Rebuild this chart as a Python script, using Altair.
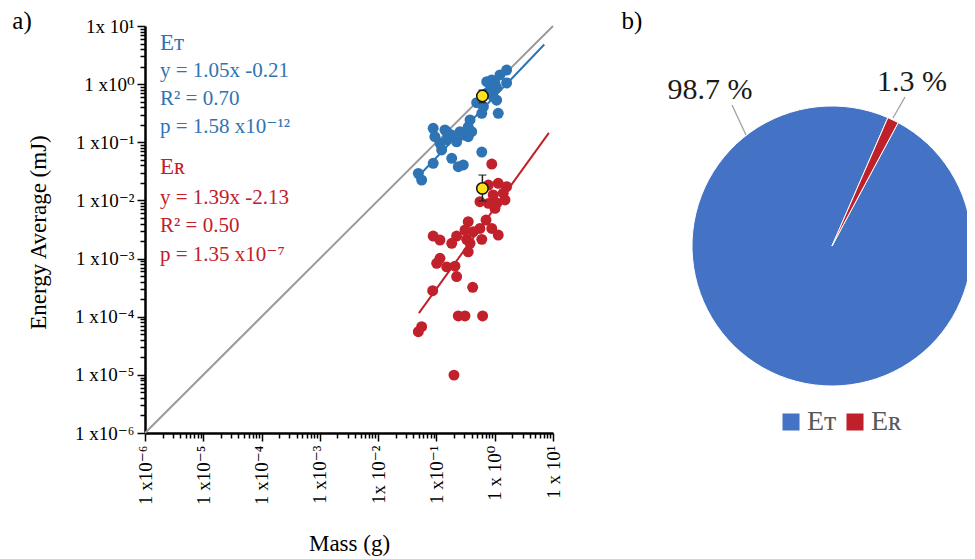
import altair as alt
import numpy as np
import pandas as pd

# ---------------- data ----------------
et_mass = [1.60, 1.23, 1.60, 0.89, 0.73, 1.08, 0.83, 0.49, 0.64, 1.08, 1.15, 0.60,
           0.377, 0.351, 0.403, 0.351, 0.254, 0.222, 0.140, 0.088, 0.094, 0.115,
           0.150, 0.183, 0.123, 0.60, 0.183, 0.237, 0.289, 0.088, 0.0489, 0.0558,
           0.73, 0.94, 1.01, 0.289, 0.150]
et_energy = [1.75, 1.44, 1.05, 1.18, 1.10, 0.86, 0.79, 0.48, 0.41, 0.53, 0.315, 0.315,
             0.242, 0.185, 0.152, 0.125, 0.152, 0.102, 0.163, 0.174, 0.125, 0.096,
             0.109, 0.133, 0.0737, 0.068, 0.053, 0.038, 0.0407, 0.0435, 0.0292, 0.0224,
             0.70, 0.61, 1.03, 0.133, 0.152]

er_mass = [0.89, 1.60, 1.15, 0.78, 0.94, 1.40, 1.50, 1.01, 0.558, 0.78, 0.351, 0.71,
           0.89, 1.15, 0.558, 0.428, 0.309, 0.222, 0.330, 0.60, 0.183, 0.377, 0.088,
           0.115, 0.351, 0.115, 0.101, 0.150, 0.208, 0.222, 0.0863, 0.419, 0.237,
           0.309, 0.62, 0.0558, 0.0489, 0.200, 1.09]
er_energy = [0.0423, 0.0172, 0.0197, 0.0184, 0.0124, 0.0133, 0.0102, 0.0073, 0.0095,
             0.0089, 0.0043, 0.0046, 0.0033, 0.00254, 0.0033, 0.0029, 0.0031, 0.00244,
             0.00214, 0.00214, 0.00183, 0.00183, 0.00244, 0.00208, 0.00131, 0.00101,
             0.00083, 0.00072, 0.00074, 0.00049, 0.00028, 0.00032, 0.000103, 0.000103,
             0.000103, 0.0000673, 0.0000552, 0.0000099, 0.0090]

mean_mass = [0.615, 0.615]
mean_energy = [0.625, 0.0161]
mean_low = [0.48, 0.0098]
mean_high = [0.79, 0.0273]

fit_t = {"slope": 1.05, "icpt": -0.21, "xmin": 0.0447, "xmax": 7.08}
fit_r = {"slope": 1.39, "icpt": -2.13, "xmin": 0.050, "xmax": 8.5}

x_tick_labels = ["1 x10⁻⁶", "1 x10⁻⁵", "1 x10⁻⁴", "1 x10⁻³", "1x 10⁻²", "1 x10⁻¹", "1 x 10⁰", "1 x 10¹"]
y_tick_labels = ["1 x10⁻⁶", "1 x10⁻⁵", "1 x10⁻⁴", "1 x10⁻³", "1 x10⁻²", "1 x10⁻¹", "1 x10⁰", "1x 10¹"]

blue_text = ["Eᴛ", "y = 1.05x -0.21", "R² = 0.70", "p = 1.58 x10⁻¹²"]
red_text = ["Eʀ", "y = 1.39x -2.13", "R² = 0.50", "p = 1.35 x10⁻⁷"]

pie_labels = ["Eᴛ", "Eʀ"]
pie_values = [98.7, 1.3]
pie_text = ["98.7 %", "1.3 %"]

# ---------------- styling ----------------
SERIF = "Liberation Serif, DejaVu Serif, serif"
BLUE = "#2E74B5"
RED = "#C1212A"
PIE_COLORS = ["#4472C4", "#C0202A"]
W, H = 408, 407

dom = [1e-6, 10]
xs = alt.Scale(type="log", domain=dom, nice=False)
ys = alt.Scale(type="log", domain=dom, nice=False)

tick_vals = [m * 10.0 ** e for e in range(-6, 1) for m in range(1, 10)] + [10.0]
major = "abs(log(datum.value)/LN10 - round(log(datum.value)/LN10)) < 0.001"


def lab_expr(labels):
    arr = "[" + ",".join("'" + s + "'" for s in labels) + "]"
    return "(" + major + ") ? " + arr + "[round(log(datum.value)/LN10)+6] : ''"


common_axis = dict(
    values=tick_vals, labelFont=SERIF, labelFontSize=19, labelColor="black",
    labelOverlap=False, tickColor="black", tickWidth=1.5,
    tickSize={"condition": {"test": major, "value": 8}, "value": 5},
    domainColor="black", domainWidth=2.5, grid=False,
    titleFont=SERIF, titleFontSize=23, titleFontWeight="normal", titleColor="black",
)

x_axis = alt.Axis(labelExpr=lab_expr(x_tick_labels), labelAngle=270, labelPadding=4,
                  title="Mass (g)", titleY=110, titleBaseline="middle", **common_axis)
y_axis = alt.Axis(labelExpr=lab_expr(y_tick_labels), labelPadding=3,
                  title="Energy Average (mJ)", titleX=-107, titleY=206,
                  titleBaseline="middle", titleAlign="center", titleAngle=270, **common_axis)

# ---------------- layers ----------------
diag = alt.Chart(pd.DataFrame({"m": dom, "e": dom})).mark_line(color="#9a9a9a", strokeWidth=2).encode(
    x=alt.X("m:Q", scale=xs, axis=x_axis), y=alt.Y("e:Q", scale=ys, axis=y_axis))

et_pts = alt.Chart(pd.DataFrame({"m": et_mass, "e": et_energy})).mark_circle(
    size=120, color=BLUE, opacity=1).encode(x=alt.X("m:Q", scale=xs), y=alt.Y("e:Q", scale=ys))
er_pts = alt.Chart(pd.DataFrame({"m": er_mass, "e": er_energy})).mark_circle(
    size=120, color=RED, opacity=1).encode(x=alt.X("m:Q", scale=xs), y=alt.Y("e:Q", scale=ys))


def fit_df(f):
    mm = np.array([f["xmin"], f["xmax"]])
    return pd.DataFrame({"m": mm, "e": 10 ** (f["slope"] * np.log10(mm) + f["icpt"])})


et_fit = alt.Chart(fit_df(fit_t)).mark_line(color=BLUE, strokeWidth=2).encode(
    x=alt.X("m:Q", scale=xs), y=alt.Y("e:Q", scale=ys))
er_fit = alt.Chart(fit_df(fit_r)).mark_line(color=RED, strokeWidth=2).encode(
    x=alt.X("m:Q", scale=xs), y=alt.Y("e:Q", scale=ys))

mean_df = pd.DataFrame({"m": mean_mass, "e": mean_energy, "lo": mean_low, "hi": mean_high})
err = alt.Chart(mean_df).mark_rule(color="#222", strokeWidth=1.5).encode(
    x=alt.X("m:Q", scale=xs), y=alt.Y("lo:Q", scale=ys), y2="hi:Q")
cap_lo = alt.Chart(mean_df).mark_tick(color="#222", orient="horizontal", size=8, thickness=1.5).encode(
    x=alt.X("m:Q", scale=xs), y=alt.Y("lo:Q", scale=ys))
cap_hi = alt.Chart(mean_df).mark_tick(color="#222", orient="horizontal", size=8, thickness=1.5).encode(
    x=alt.X("m:Q", scale=xs), y=alt.Y("hi:Q", scale=ys))
means = alt.Chart(mean_df).mark_point(filled=True, fill="#FFE21A", stroke="#111", strokeWidth=1.5,
                                      size=130, opacity=1, shape="circle").encode(
    x=alt.X("m:Q", scale=xs), y=alt.Y("e:Q", scale=ys))

texts = []
blue_y = [17, 45, 73, 101]
red_y = [141, 172, 200, 229]
for t, yy in zip(blue_text, blue_y):
    texts.append(alt.Chart().mark_text(text=t, font=SERIF, fontSize=21 if t[0] != "E" else 23,
                                       color=BLUE, align="left", baseline="middle").encode(
        x=alt.value(15), y=alt.value(yy)))
for t, yy in zip(red_text, red_y):
    texts.append(alt.Chart().mark_text(text=t, font=SERIF, fontSize=21 if t[0] != "E" else 23,
                                       color=RED, align="left", baseline="middle").encode(
        x=alt.value(15), y=alt.value(yy)))

panel_labels = [
    alt.Chart().mark_text(text="a)", font=SERIF, fontSize=25, color="black", align="center",
                          baseline="middle").encode(x=alt.value(-123), y=alt.value(-5)),
    alt.Chart().mark_text(text="b)", font=SERIF, fontSize=25, color="black", align="center",
                          baseline="middle").encode(x=alt.value(487), y=alt.value(-5)),
]

# ---------------- pie ----------------
off = np.deg2rad(28.2)
pie_df = pd.DataFrame({"comp": pie_labels, "share": pie_values, "ord": [0, 1]})
pie = alt.Chart(pie_df).mark_arc(radius=140, stroke="white", strokeWidth=1).encode(
    theta=alt.Theta("share:Q", stack=True, scale=alt.Scale(range=[off, off + 2 * np.pi])),
    color=alt.Color("comp:N", scale=alt.Scale(domain=pie_labels, range=PIE_COLORS),
                    legend=alt.Legend(orient="none", legendX=632, legendY=382, direction="horizontal",
                                      title=None, symbolType="square", symbolSize=290,
                                      symbolStrokeWidth=0, labelFont=SERIF, labelFontSize=28,
                                      labelColor="#595959", columnPadding=4, labelOffset=2,
                                      symbolOpacity=1)),
    order=alt.Order("ord:Q"),
    x=alt.value(687), y=alt.value(220),
)

pie_lab = [
    alt.Chart().mark_text(text=pie_text[0], font=SERIF, fontSize=30, color="#1a1a1a",
                          align="center", baseline="middle").encode(x=alt.value(565), y=alt.value(64)),
    alt.Chart().mark_text(text=pie_text[1], font=SERIF, fontSize=30, color="#1a1a1a",
                          align="center", baseline="middle").encode(x=alt.value(767), y=alt.value(56)),
]
leaders = [
    alt.Chart().mark_rule(color="#a0a0a0", strokeWidth=1.3).encode(
        x=alt.value(587), x2=alt.value(601), y=alt.value(79), y2=alt.value(109)),
    alt.Chart().mark_rule(color="#a0a0a0", strokeWidth=1.3).encode(
        x=alt.value(760), x2=alt.value(748), y=alt.value(71), y2=alt.value(92)),
]

chart = alt.layer(
    diag, et_pts, er_pts, et_fit, er_fit, err, cap_lo, cap_hi, means,
    *texts, *panel_labels, pie, *pie_lab, *leaders,
).properties(
    width=W, height=H,
    autosize=alt.AutoSizeParams(type="none"),
    padding={"left": 137, "top": 18, "right": 414, "bottom": 124},
    background="white",
).configure_view(stroke=None)

chart.save("out.html", embed_options={"renderer": "svg", "actions": False})
